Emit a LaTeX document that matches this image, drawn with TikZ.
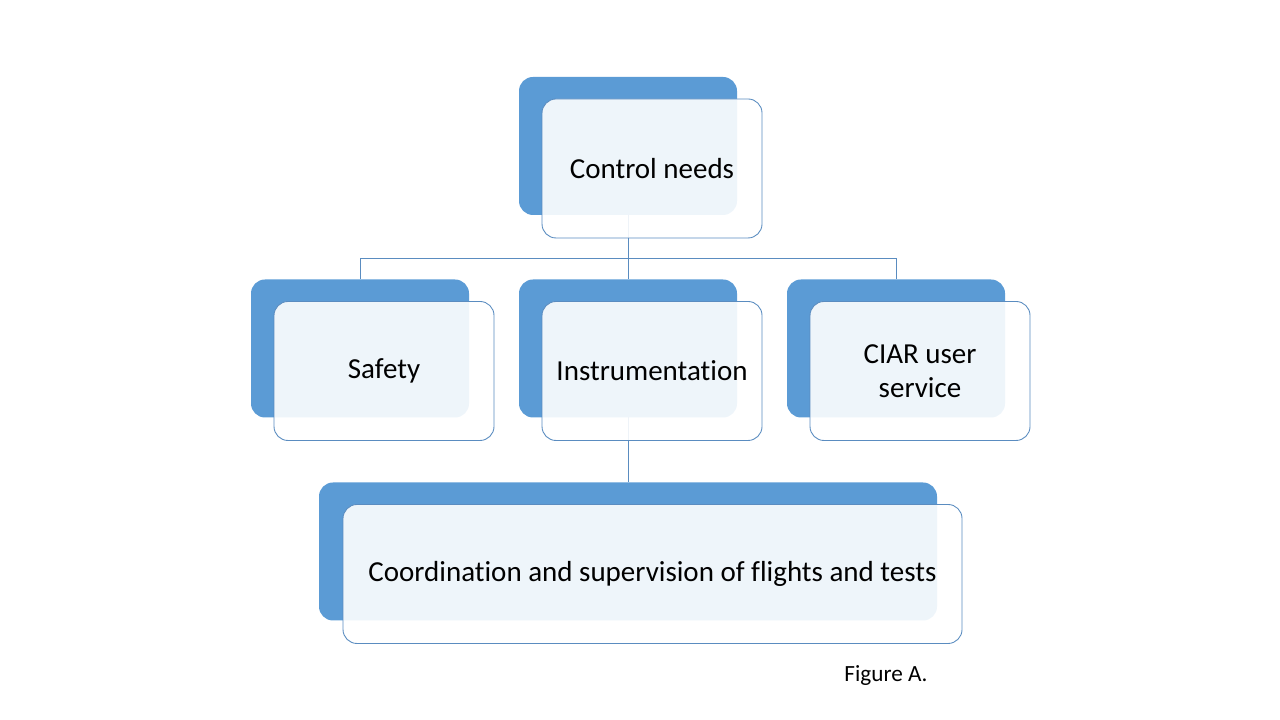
\documentclass[tikz,border=0pt]{standalone}
\usepackage{fontspec}
\setmainfont[Ligatures=NoCommon]{Carlito}
\usepackage{tikz}
\usepackage{xcolor}
\definecolor{boxblue}{HTML}{5B9BD5}
\definecolor{edgeblue}{HTML}{5A8CC0}

\begin{document}
\begin{tikzpicture}[
		backbox/.style={rectangle,rounded corners=0.14cm,fill=boxblue,inner sep=0pt,outer sep=0pt,
			minimum width=2.18cm,minimum height=1.38cm},
		frontbox/.style={rectangle,rounded corners=0.14cm,draw=edgeblue,line width=0.25pt,
			fill=white,fill opacity=0.9,text opacity=1,inner sep=0pt,outer sep=0pt,
			minimum width=2.2cm,minimum height=1.39cm,align=center,
			font=\fontsize{8.25}{9.6}\selectfont},
		link/.style={draw=edgeblue,line width=0.25pt}]
			\useasboundingbox (0,0) rectangle (12.8,7.2);
			% back boxes
			\node[backbox] (cb) at (6.28,5.74) {};
			\node[backbox] (sb) at (3.60,3.715) {};
			\node[backbox] (ib) at (6.28,3.715) {};
			\node[backbox] (ub) at (8.96,3.715) {};
			\node[backbox,minimum width=6.18cm] (fb) at (6.28,1.685) {};
			% connectors
			\foreach \Child in {sb,ib,ub}
				\draw[link] (cb.south) -- ++(0,-0.43) -| (\Child.north);
			\draw[link] (ib.south) -- (fb.north);
			% front boxes
			\node[frontbox] (c) at ([shift={(0.24,-0.225)}]cb.center) {Control needs};
			\node[frontbox] (s) at ([shift={(0.24,-0.225)}]sb.center) {Safety};
			\node[frontbox] (i) at ([shift={(0.24,-0.225)}]ib.center) {Instrumentation};
			\node[frontbox] (u) at ([shift={(0.24,-0.225)}]ub.center) {CIAR user\\service};
			\node[frontbox,minimum width=6.19cm] (f) at ([shift={(0.245,-0.225)}]fb.center)
				{Coordination and supervision of flights and tests};
			\node[font=\fontsize{6.6}{8}\selectfont] (cap) at (8.86,0.44) {Figure A.};
		\end{tikzpicture}
\end{document}
